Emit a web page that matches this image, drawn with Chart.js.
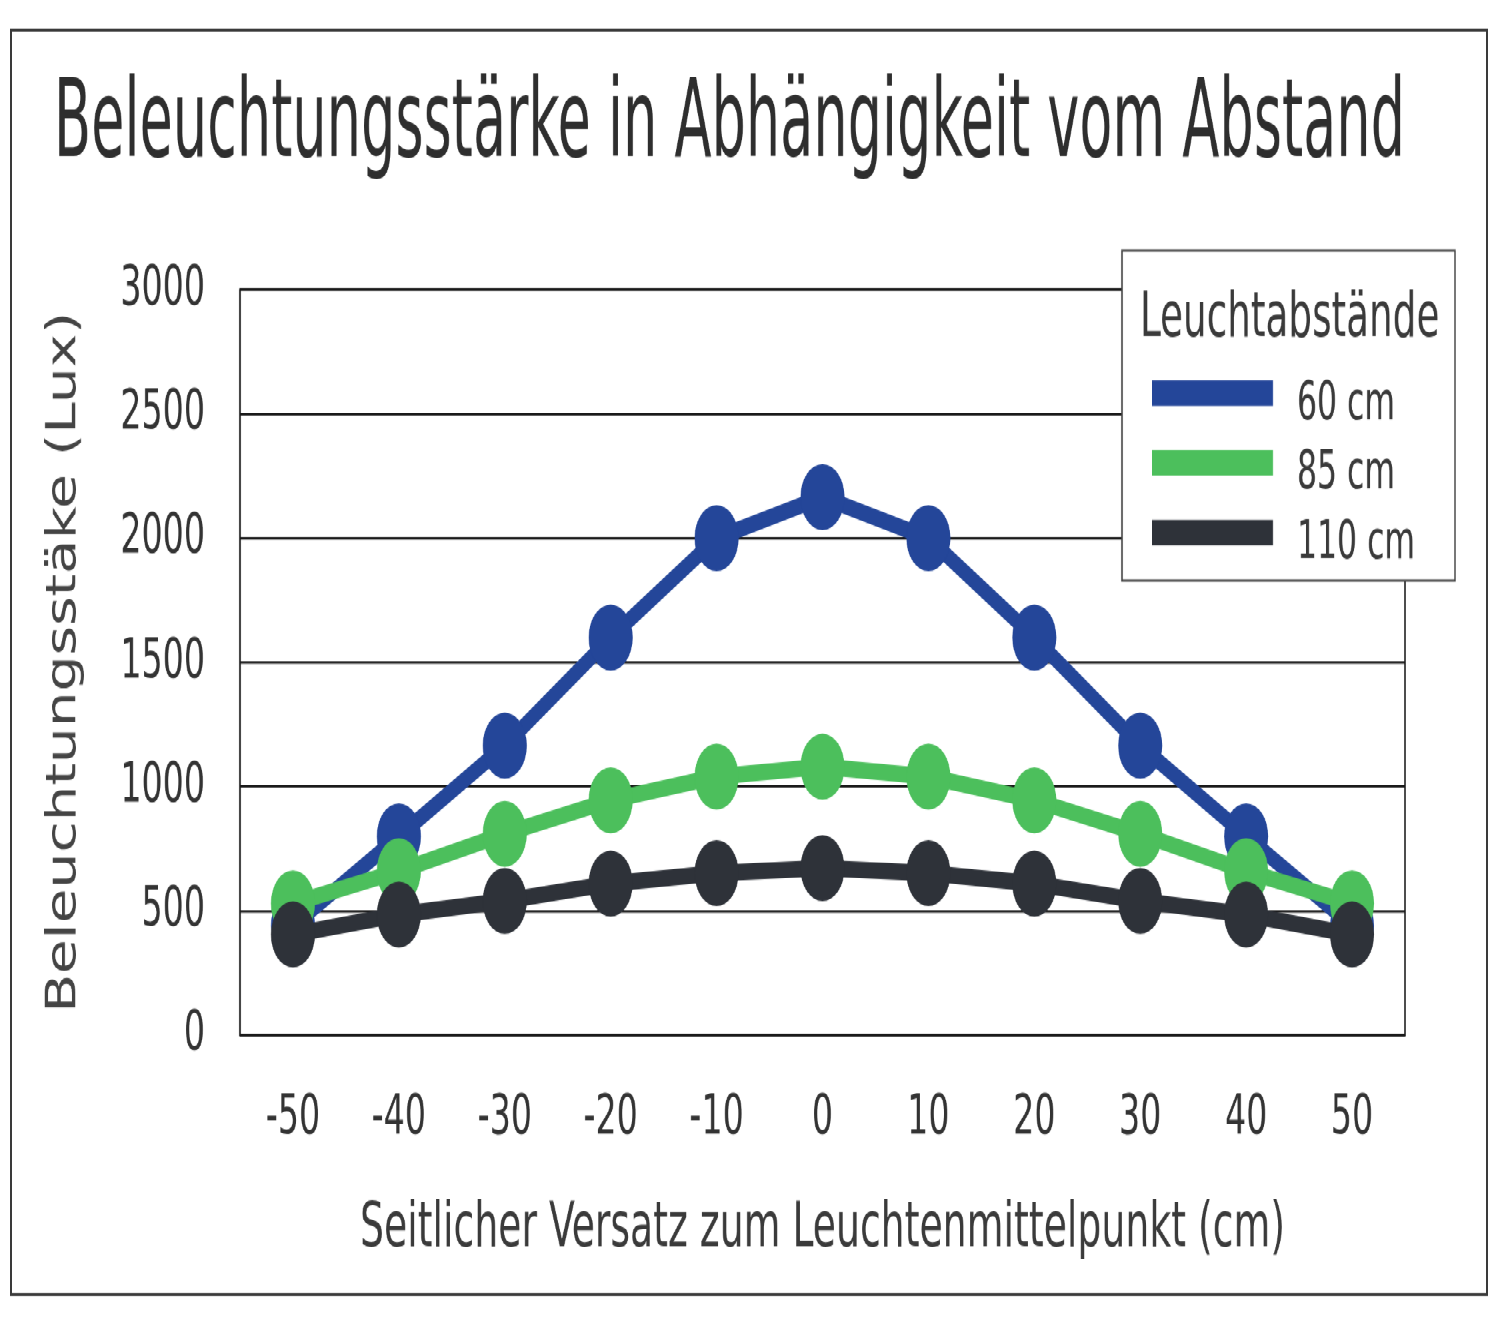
<!DOCTYPE html>
<html><head><meta charset="utf-8">
<script src="https://cdn.jsdelivr.net/npm/chart.js@4.4.1/dist/chart.umd.min.js"></script>
<style>
html,body{margin:0;padding:0;background:#fff;}
#stage{position:absolute;left:0;top:0;width:1512px;height:882px;transform:scaleY(1.5);transform-origin:0 0;}
#frame{position:absolute;left:10px;top:18.7px;width:1478px;height:845px;box-sizing:border-box;border:2.5px solid #3a3a3a;}
#wrap{position:absolute;left:0;top:0;width:1512px;height:882px;}
</style></head><body>
<div id="stage"><div id="frame"></div><div id="wrap"><canvas id="c"></canvas></div></div>
<script>
const chartTitle = 'Beleuchtungsstärke in Abhängigkeit vom Abstand';
const xAxisTitle = 'Seitlicher Versatz zum Leuchtenmittelpunkt (cm)';
const yAxisTitle = 'Beleuchtungsstäke (Lux)';
const legendTitle = 'Leuchtabstände';
const offsets = ['-50','-40','-30','-20','-10','0','10','20','30','40','50'];
const seriesLabels = ['60 cm','85 cm','110 cm'];
const lux60  = [440, 800, 1165, 1600, 2000, 2165, 2000, 1600, 1165, 800, 440];
const lux85  = [530, 660, 810, 945, 1040, 1080, 1040, 945, 810, 660, 530];
const lux110 = [405, 485, 540, 610, 652, 672, 652, 610, 540, 485, 405];
const yTicks = [0, 500, 1000, 1500, 2000, 2500, 3000];
const seriesColors = ['#244699', '#4cbf5c', '#2e3239'];

const FONT = "'Liberation Sans Narrow', 'DejaVu Sans Condensed', 'Arial Narrow', sans-serif";

const plotFrame = {
  id: 'plotFrame',
  beforeDatasetsDraw(chart) {
    const {ctx, chartArea: a} = chart;
    ctx.save();
    ctx.strokeStyle = '#1a1a1a';
    ctx.lineWidth = 1.6;
    ctx.strokeRect(a.left, a.top, a.right - a.left, a.bottom - a.top);
    ctx.restore();
  }
};

const legendBox = {
  id: 'legendBox',
  afterDraw(chart, args, o) {
    const ctx = chart.ctx;
    ctx.save();
    ctx.fillStyle = '#fff';
    ctx.fillRect(o.x, o.y, o.w, o.h);
    ctx.lineWidth = 1.5;
    ctx.strokeStyle = '#444';
    ctx.strokeRect(o.x, o.y, o.w, o.h);
    ctx.textBaseline = 'middle';
    ctx.textAlign = 'left';
    ctx.fillStyle = '#3a3a3a';
    ctx.font = o.titleSize + 'px ' + FONT;
    ctx.fillText(o.title, o.titleX, o.titleY);
    ctx.font = o.labelSize + 'px ' + FONT;
    chart.data.datasets.forEach((ds, i) => {
      const cy = o.rowY + i * o.rowStep;
      ctx.fillStyle = ds.borderColor;
      ctx.fillRect(o.swX, cy - o.swH / 2, o.swW, o.swH);
      ctx.fillStyle = '#3a3a3a';
      ctx.fillText(ds.label, o.labelX, cy + o.labelDy);
    });
    ctx.restore();
  }
};

function ds(label, data, color, order) {
  return {
    label, data, order,
    borderColor: color, backgroundColor: color,
    borderWidth: 11, pointRadius: 22, pointHoverRadius: 22,
    pointBackgroundColor: color, pointBorderColor: color, pointBorderWidth: 0,
    tension: 0, fill: false
  };
}

new Chart(document.getElementById('c'), {
  type: 'line',
  data: {
    labels: offsets,
    datasets: [
      ds(seriesLabels[0], lux60, seriesColors[0], 3),
      ds(seriesLabels[1], lux85, seriesColors[1], 2),
      ds(seriesLabels[2], lux110, seriesColors[2], 1)
    ]
  },
  options: {
    responsive: true,
    maintainAspectRatio: false,
    animation: false,
    devicePixelRatio: 1.5,
    layout: { padding: { left: 54, right: 107, top: 0, bottom: 41 } },
    plugins: {
      legend: { display: false },
      tooltip: { enabled: false },
      title: {
        display: true, text: chartTitle, align: 'center', color: '#2e2e2e',
        font: { family: FONT, size: 72, weight: 'normal', lineHeight: 1 },
        padding: { top: 49.5, bottom: 71.5 }
      },
      legendBox: {
        title: legendTitle,
        x: 1122, y: 167, w: 333, h: 220,
        titleX: 1140, titleY: 213, titleSize: 41.5,
        labelSize: 35, rowY: 262, rowStep: 46.5,
        swX: 1152, swW: 121, swH: 17, labelX: 1297, labelDy: 8
      }
    },
    scales: {
      x: {
        type: 'category',
        offset: true,
        grid: { display: false },
        border: { display: false },
        ticks: { color: '#333', padding: 29, font: { family: FONT, size: 37, lineHeight: 1 }, maxRotation: 0 },
        title: {
          display: true, text: xAxisTitle, color: '#3a3a3a',
          font: { family: FONT, size: 42, lineHeight: 1 },
          padding: { top: 0, bottom: 0 }
        },
        afterFit(scale) { scale.height = 151; }
      },
      y: {
        min: 0, max: 3000,
        afterBuildTicks(scale) { scale.ticks = yTicks.map(v => ({ value: v })); },
        grid: { color: '#1a1a1a', lineWidth: 1.6, drawTicks: false },
        border: { display: false },
        ticks: {
          color: '#333', padding: 35, font: { family: FONT, size: 37, lineHeight: 1 },
          callback: (v) => String(v)
        },
        title: {
          display: true, text: yAxisTitle, color: '#444',
          font: { family: FONT, size: 42, lineHeight: 0.5 },
          padding: { top: 0, bottom: 0 }
        },
        afterFit(scale) { scale.width = 186; }
      }
    }
  },
  plugins: [plotFrame, legendBox]
});
</script>
</body></html>
